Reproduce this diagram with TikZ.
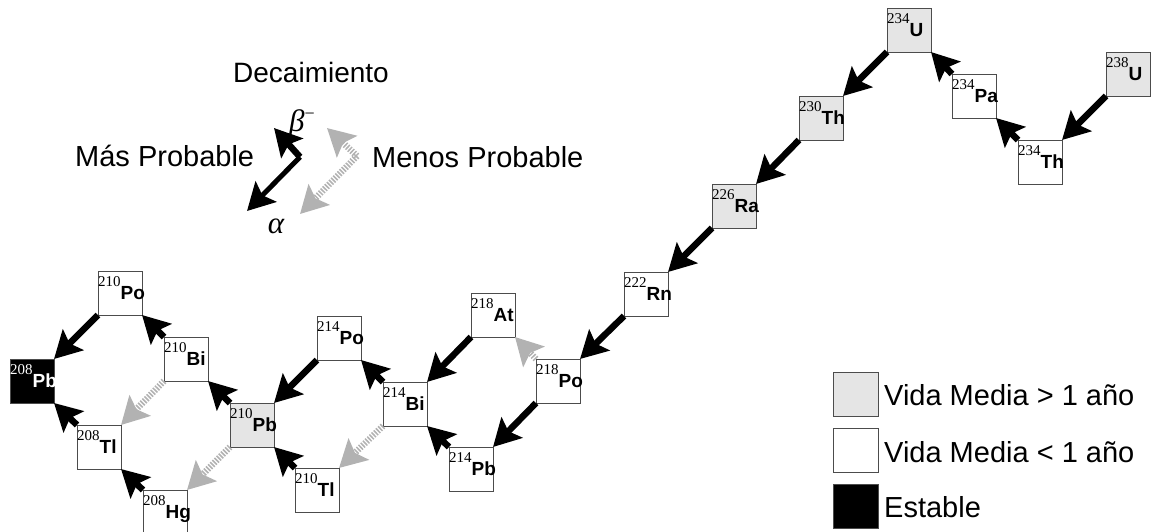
\documentclass[tikz,border=0pt]{standalone}
\usepackage{fontspec}
\setmainfont{Liberation Serif}
\setsansfont{Liberation Sans}
\usetikzlibrary{arrows.meta}

% mass number raised above the bold element symbol
\newcommand\isotope[2]{\raisebox{13.5pt}{\fontsize{15}{15}\selectfont\rmfamily #1}{\fontsize{19}{19}\selectfont\sffamily\bfseries #2}}
\newcommand\bigsans{\fontsize{29}{29}\selectfont\sffamily}

\begin{document}
\begin{tikzpicture}[x=1pt,y=-1pt,
  nuc/.style={draw=black!70, line width=0.8pt, minimum width=44pt, minimum height=44pt, inner sep=0pt, outer sep=0pt},
  longlife/.style={nuc, fill=black!10},
  shortlife/.style={nuc, fill=white},
  stablebox/.style={nuc, fill=black},
  isolabel/.style={anchor=base west, inner sep=0pt, xshift=0pt, yshift=-6.5pt},
  legtext/.style={anchor=base west, inner sep=0pt, font=\bigsans},
  mainarr/.style={draw=black, line width=6.5pt, -{Stealth[length=27pt,width=29pt,inset=5pt]}},
  minorarr/.style={draw=black!30, line width=6.5pt, dash pattern=on 1.5pt off 1.5pt,
    -{Stealth[length=27pt,width=29pt,inset=5pt,black!30,fill=black!30]}},
]
\useasboundingbox (0,0) rectangle (1157,531);

% ---- nuclides ----
\node[longlife]  (U238)  at (1128,74)  {};
\node[shortlife] (Th234) at (1040,162) {};
\node[shortlife] (Pa234) at (974,96)   {};
\node[longlife]  (U234)  at (909,30)   {};
\node[longlife]  (Th230) at (821,118)  {};
\node[longlife]  (Ra226) at (734,206)  {};
\node[shortlife] (Rn222) at (646,294)  {};
\node[shortlife] (Po218) at (558,381)  {};
\node[shortlife] (At218) at (493,315)  {};
\node[shortlife] (Pb214) at (471,469)  {};
\node[shortlife] (Bi214) at (405,404)  {};
\node[shortlife] (Po214) at (339,338)  {};
\node[shortlife] (Tl210) at (317,490)  {};
\node[longlife]  (Pb210) at (252,425)  {};
\node[shortlife] (Bi210) at (186,359)  {};
\node[shortlife] (Po210) at (120,293)  {};
\node[shortlife] (Hg208) at (165,512)  {};
\node[shortlife] (Tl208) at (99,447)   {};
\node[stablebox] (Pb208) at (32,381)   {};

\node[isolabel] (U238t)  at (U238.west)  {\isotope{238}{U}};
\node[isolabel] (Th234t) at (Th234.west) {\isotope{234}{Th}};
\node[isolabel] (Pa234t) at (Pa234.west) {\isotope{234}{Pa}};
\node[isolabel] (U234t)  at (U234.west)  {\isotope{234}{U}};
\node[isolabel] (Th230t) at (Th230.west) {\isotope{230}{Th}};
\node[isolabel] (Ra226t) at (Ra226.west) {\isotope{226}{Ra}};
\node[isolabel] (Rn222t) at (Rn222.west) {\isotope{222}{Rn}};
\node[isolabel] (Po218t) at (Po218.west) {\isotope{218}{Po}};
\node[isolabel] (At218t) at (At218.west) {\isotope{218}{At}};
\node[isolabel] (Pb214t) at (Pb214.west) {\isotope{214}{Pb}};
\node[isolabel] (Bi214t) at (Bi214.west) {\isotope{214}{Bi}};
\node[isolabel] (Po214t) at (Po214.west) {\isotope{214}{Po}};
\node[isolabel] (Tl210t) at (Tl210.west) {\isotope{210}{Tl}};
\node[isolabel] (Pb210t) at (Pb210.west) {\isotope{210}{Pb}};
\node[isolabel] (Bi210t) at (Bi210.west) {\isotope{210}{Bi}};
\node[isolabel] (Po210t) at (Po210.west) {\isotope{210}{Po}};
\node[isolabel] (Hg208t) at (Hg208.west) {\isotope{208}{Hg}};
\node[isolabel] (Tl208t) at (Tl208.west) {\isotope{208}{Tl}};
\node[isolabel, text=white] (Pb208t) at (Pb208.west) {\isotope{208}{Pb}};

% ---- alpha decays (corner to corner, down-left) ----
\draw[mainarr] (U238.south west)  -- (Th234.north east);
\draw[mainarr] (U234.south west)  -- (Th230.north east);
\draw[mainarr] (Th230.south west) -- (Ra226.north east);
\draw[mainarr] (Ra226.south west) -- (Rn222.north east);
\draw[mainarr] (Rn222.south west) -- (Po218.north east);
\draw[mainarr] (Po218.south west) -- (Pb214.north east);
\draw[mainarr] (At218.south west) -- (Bi214.north east);
\draw[minorarr] (Bi214.south west) -- (Tl210.north east);
\draw[mainarr] (Po214.south west) -- (Pb210.north east);
\draw[minorarr] (Pb210.south west) -- (Hg208.north east);
\draw[minorarr] (Bi210.south west) -- (Tl208.north east);
\draw[mainarr] (Po210.south west) -- (Pb208.north east);

% ---- beta decays (corner to corner, up-left) ----
\draw[mainarr] (Th234.north west) -- (Pa234.south east);
\draw[mainarr] (Pa234.north west) -- (U234.south east);
\draw[minorarr] (Po218.north west) -- (At218.south east);
\draw[mainarr] (Pb214.north west) -- (Bi214.south east);
\draw[mainarr] (Bi214.north west) -- (Po214.south east);
\draw[mainarr] (Tl210.north west) -- (Pb210.south east);
\draw[mainarr] (Pb210.north west) -- (Bi210.south east);
\draw[mainarr] (Bi210.north west) -- (Po210.south east);
\draw[mainarr] (Hg208.north west) -- (Tl208.south east);
\draw[mainarr] (Tl208.north west) -- (Pb208.south east);

% ---- decay key ----
\node[legtext, font=\fontsize{28}{28}\selectfont\sffamily] (keytitle) at (233,82)  {Decaimiento};
\node[legtext] (keymore)  at (75,166)  {Más Probable};
\node[legtext] (keyless)  at (372,167) {Menos Probable};
\node[anchor=base west, inner sep=0pt, font=\fontsize{31}{31}\selectfont\itshape] (keybeta) at (289,131) {β\raisebox{12pt}{\fontsize{18}{18}\selectfont\upshape −}};
\node[anchor=base, inner sep=0pt, font=\fontsize{31}{31}\selectfont\itshape] (keyalpha) at (276,233) {α};

\coordinate (kj)  at (300,157);
\coordinate (kjb) at (274,128);
\coordinate (kja) at (247,211);
\coordinate (gj)  at (357,156);
\coordinate (gjb) at (327,128);
\coordinate (gja) at (300,214);
\draw[mainarr] (kj) -- (kjb);
\draw[mainarr, line width=5pt] (kj) -- (kja);
\draw[minorarr] (gj) -- (gjb);
\draw[minorarr] (gj) -- (gja);

% ---- half-life key ----
\node[nuc, fill=black!10, minimum width=45pt] (keylong)   at (856,394) {};
\node[nuc, fill=white,    minimum width=45pt] (keyshort)  at (856,450) {};
\node[nuc, fill=black,    minimum width=45pt] (keystable) at (856,506) {};
\node[legtext] (keylongt)   at (884,405) {Vida Media > 1 año};
\node[legtext] (keyshortt)  at (884,462) {Vida Media < 1 año};
\node[legtext] (keystablet) at (884,517) {Estable};
\end{tikzpicture}
\end{document}
